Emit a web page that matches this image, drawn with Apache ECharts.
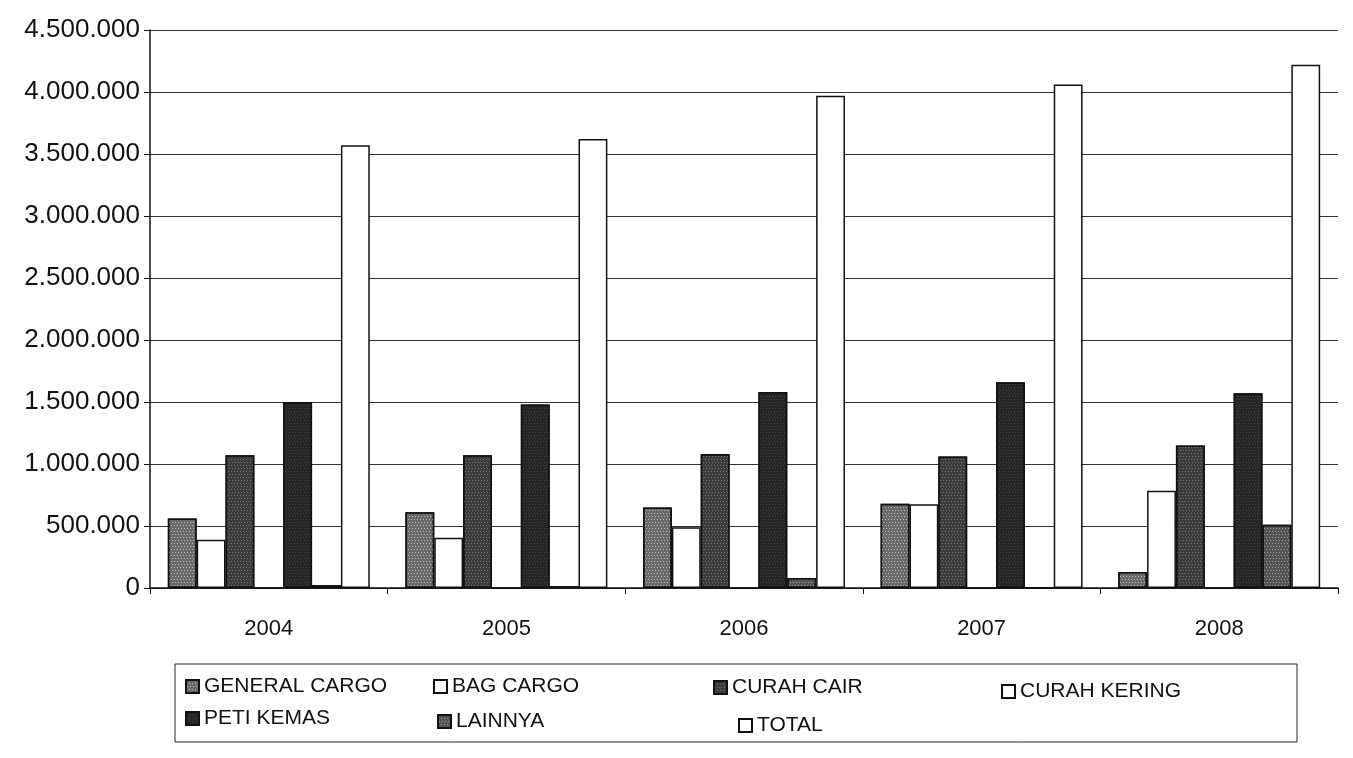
<!DOCTYPE html>
<html>
<head>
<meta charset="utf-8">
<script src="https://cdn.jsdelivr.net/npm/echarts@6/dist/echarts.min.js"></script>
<style>
  html, body { margin: 0; padding: 0; background: #fff; }
  #container { width: 1353px; height: 758px; }
</style>
</head>
<body>
<div id="container"></div>
<script>
// data
const years = ['2004', '2005', '2006', '2007', '2008'];
const generalCargo = [560000, 610000, 650000, 680000, 130000];
const bagCargo = [390000, 405000, 490000, 675000, 785000];
const curahCair = [1070000, 1070000, 1080000, 1060000, 1150000];
const curahKering = [0, 0, 0, 0, 0];
const petiKemas = [1500000, 1480000, 1580000, 1660000, 1570000];
const lainnya = [25000, 15000, 80000, 0, 510000];
const total = [3570000, 3620000, 3970000, 4060000, 4220000];

const font = '"Liberation Sans", Arial, sans-serif';

// speckled fill like the printed bars
function speckle(alpha) {
  return {
    symbol: 'rect',
    symbolSize: 1,
    color: 'rgba(255,255,255,' + alpha + ')',
    dashArrayX: [[1, 2], [0, 1, 1, 1]],
    dashArrayY: [1, 2],
    rotation: 0
  };
}

function bar(name, data, color, decal) {
  return {
    name: name,
    type: 'bar',
    data: data,
    barGap: '0%',
    barCategoryGap: '15%',
    itemStyle: {
      color: color,
      borderColor: '#111',
      borderWidth: 1.5,
      decal: decal || null
    }
  };
}

function legendItem(name, left, top) {
  return {
    data: [name],
    left: left,
    top: top,
    icon: 'rect',
    itemWidth: 13,
    itemHeight: 13,
    itemGap: 7,
    selectedMode: false,
    textStyle: { fontSize: 21, color: '#111', fontFamily: font }
  };
}

let chart = echarts.init(document.querySelector('#container'));
chart.setOption({
  animation: false,
  backgroundColor: '#fff',
  grid: { left: 150, right: 15, top: 30, bottom: 170 },
  xAxis: {
    type: 'category',
    data: years,
    axisLine: { lineStyle: { color: '#111', width: 1.5 } },
    axisTick: { show: true, length: 6, lineStyle: { color: '#111' } },
    axisLabel: { fontSize: 22, color: '#111', fontFamily: font, margin: 30 }
  },
  yAxis: {
    type: 'value',
    min: 0,
    max: 4500000,
    interval: 500000,
    axisLine: { show: true, lineStyle: { color: '#111', width: 1.5 } },
    axisTick: { show: true, length: 6, lineStyle: { color: '#111' } },
    axisLabel: {
      fontSize: 26,
      color: '#111',
      fontFamily: font,
      margin: 10,
      formatter: v => String(v).replace(/\B(?=(\d{3})+(?!\d))/g, '.')
    },
    splitLine: { lineStyle: { color: '#333', width: 1.2 } }
  },
  legend: [
    legendItem('GENERAL CARGO', 180, 671),
    legendItem('BAG CARGO', 428, 671),
    legendItem('CURAH CAIR', 708, 672),
    legendItem('CURAH KERING', 996, 676),
    legendItem('PETI KEMAS', 180, 703),
    legendItem('LAINNYA', 432, 706),
    legendItem('TOTAL', 733, 710)
  ],
  graphic: [{
    type: 'rect',
    shape: { x: 175, y: 664, width: 1122, height: 78 },
    style: { fill: 'none', stroke: '#222', lineWidth: 1 }
  }],
  series: [
    bar('GENERAL CARGO', generalCargo, '#6a6a6a', speckle(0.55)),
    bar('BAG CARGO', bagCargo, '#ffffff'),
    bar('CURAH CAIR', curahCair, '#3c3c3c', speckle(0.3)),
    bar('CURAH KERING', curahKering, '#ffffff'),
    bar('PETI KEMAS', petiKemas, '#262626', speckle(0.15)),
    bar('LAINNYA', lainnya, '#555555', speckle(0.45)),
    bar('TOTAL', total, '#ffffff')
  ]
});
</script>
</body>
</html>
